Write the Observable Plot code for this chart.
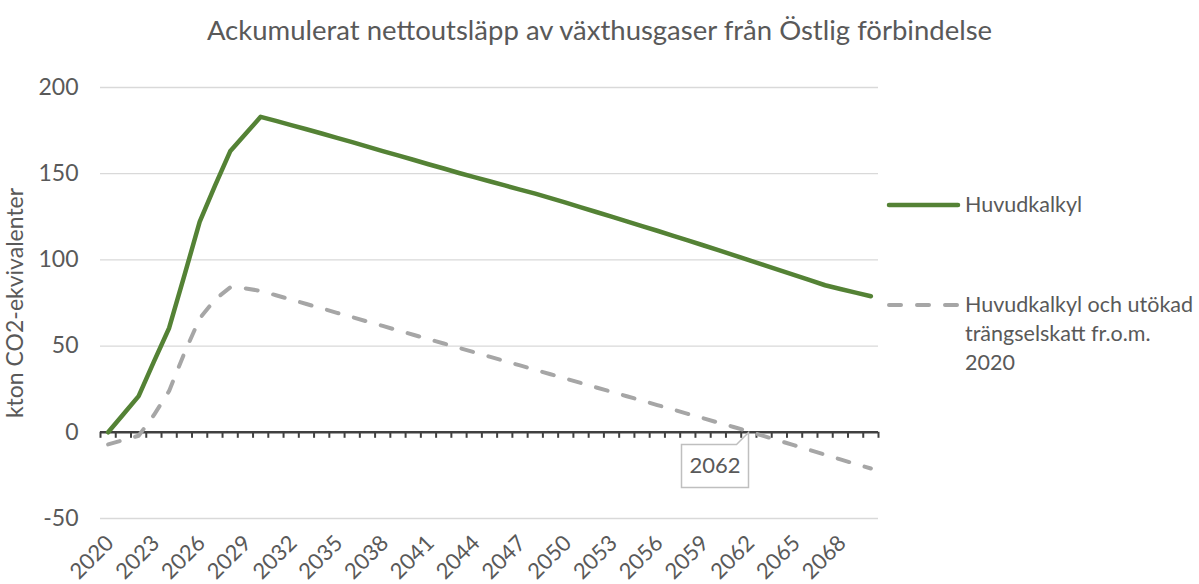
<!DOCTYPE html>
<html>
<head>
<meta charset="utf-8">
<script src="https://cdn.jsdelivr.net/npm/d3@7"></script>
<script src="https://cdn.jsdelivr.net/npm/@observablehq/plot@0.6"></script>
<style>
  body { margin: 0; background: #fff; font-family: Lato, "Open Sans", sans-serif; }
  #wrap { position: relative; width: 1199px; height: 584px; overflow: hidden; }
  #title { height: 60px; line-height: 60px; text-align: center; font-size: 27.5px; color: #595959; white-space: nowrap; }
  .leg { position: absolute; font-size: 21.5px; color: #595959; line-height: 29px; white-space: nowrap; }
  .sw { position: absolute; }
</style>
</head>
<body>
<div id="wrap">
  <div id="title">Ackumulerat nettoutsläpp av växthusgaser från Östlig förbindelse</div>
  <div id="chart"></div>
  <svg class="sw" style="left:886px;top:195px" width="76" height="20"><line x1="3" y1="10" x2="72" y2="10" stroke="#548235" stroke-width="4.5" stroke-linecap="round"/></svg>
  <div class="leg" style="left:965px;top:190px">Huvudkalkyl</div>
  <svg class="sw" style="left:886px;top:295px" width="76" height="20"><line x1="3" y1="10" x2="72" y2="10" stroke="#a6a6a6" stroke-width="4" stroke-linecap="round" stroke-dasharray="12,16"/></svg>
  <div class="leg" style="left:965px;top:290px">Huvudkalkyl och utökad<br>trängselskatt fr.o.m.<br>2020</div>
</div>
<script>
// Categories (years)
const years = [2020,2021,2022,2023,2024,2025,2026,2027,2028,2029,
  2030,2031,2032,2033,2034,2035,2036,2037,2038,2039,
  2040,2041,2042,2043,2044,2045,2046,2047,2048,2049,
  2050,2051,2052,2053,2054,2055,2056,2057,2058,2059,
  2060,2061,2062,2063,2064,2065,2066,2067,2068,2069,2070];

// Series: Huvudkalkyl (kton CO2-ekv)
const huvudkalkyl = [0,10.5,21,41,60.5,91,122,143,163,173,
  183,180.6,178.2,175.8,173.3,170.8,168.3,165.7,163.1,160.6,
  158.1,155.5,153,150.4,148,145.6,143.2,140.8,138.4,135.8,
  133.2,130.5,127.8,125.1,122.4,119.6,116.9,114.1,111.3,108.5,
  105.7,102.8,99.9,97,94.1,91.2,88.2,85.3,83.1,81,78.9];

// Series: Huvudkalkyl och utökad trängselskatt fr.o.m. 2020
const utokad = [-7,-4.5,-2,10,24,46,66,77,84,83.5,
  82,79.5,77,74.4,71.9,69.3,66.8,64.2,61.7,59.1,
  56.6,54,51.5,49,46.4,43.9,41.3,38.8,36.2,33.7,
  31.1,28.6,26,23.5,20.9,18.4,15.8,13.3,10.7,8.2,
  5.6,3.1,0.5,-2.2,-4.9,-7.6,-10.3,-13,-15.7,-18.4,-21];

// Axis tick labels
const xLabelYears = [2020,2023,2026,2029,2032,2035,2038,2041,2044,2047,2050,2053,2056,2059,2062,2065,2068];
const yTicks = [-50,0,50,100,150,200];
const yGrid = [-50,50,100,150,200];

// Callout
const calloutYears = [2062];
const calloutValues = [0];
const calloutLabels = ["2062"];

const rowsMain = years.map((y, i) => ({year: y, value: huvudkalkyl[i]}));
const rowsAlt = years.map((y, i) => ({year: y, value: utokad[i]}));
const tickBounds = years.map(y => y - 0.5).concat([years[years.length - 1] + 0.5]);
const callout = calloutYears.map((y, i) => ({year: y, value: calloutValues[i], label: calloutLabels[i]}));

const calloutMark = (typeof Plot.tip === "function")
  ? Plot.tip(callout, {x: "year", y: "value", title: "label", anchor: "top-right",
      fontSize: 22, textPadding: 8, stroke: "#bfbfbf", fill: "white", strokeWidth: 1.5, pathFilter: "none"})
  : Plot.text(callout, {x: "year", y: "value", text: "label", dy: 28, dx: -33, fontSize: 22, fill: "#404040"});

const chart = Plot.plot({
  width: 1199,
  height: 524,
  marginLeft: 100,
  marginRight: 321,
  marginTop: 27,
  marginBottom: 66,
  x: {domain: [years[0] - 0.5, years[years.length - 1] + 0.5]},
  y: {domain: [-50, 200]},
  style: {fontFamily: "Lato, 'Open Sans', sans-serif", color: "#595959", background: "white", overflow: "visible"},
  marks: [
    Plot.gridY(yGrid, {stroke: "#d9d9d9", strokeOpacity: 1, strokeWidth: 1.3}),
    Plot.axisY(yTicks, {tickSize: 0, tickPadding: 22, fontSize: 23, tickFormat: d => String(d), label: "kton CO2-ekvivalenter", labelAnchor: "center", labelOffset: 94, labelArrow: "none"}),
    Plot.axisX(xLabelYears, {tickSize: 0, tickRotate: -45, tickPadding: 21, dx: 2, fontSize: 22, tickFormat: d => String(d), label: null}),
    Plot.ruleY([0], {stroke: "#404040", strokeWidth: 2.5}),
    Plot.ruleX(tickBounds, {y1: 0, y2: 0, insetBottom: -6, stroke: "#404040", strokeWidth: 2}),
    Plot.line(rowsAlt, {x: "year", y: "value", stroke: "#a6a6a6", strokeWidth: 4, strokeDasharray: "12,16", strokeLinecap: "round", strokeLinejoin: "round"}),
    Plot.line(rowsMain, {x: "year", y: "value", stroke: "#548235", strokeWidth: 4.5, strokeLinecap: "round", strokeLinejoin: "round"}),
    calloutMark
  ]
});
document.getElementById("chart").appendChild(chart);
</script>
</body>
</html>
